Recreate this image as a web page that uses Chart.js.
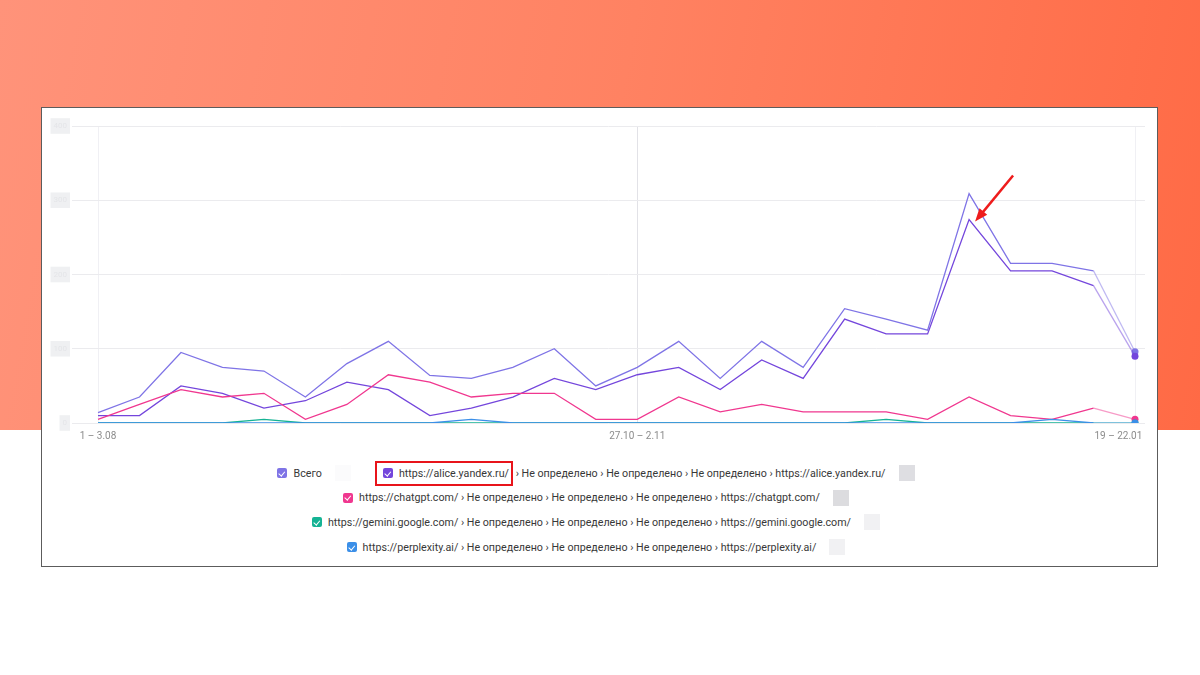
<!DOCTYPE html>
<html lang="ru">
<head>
<meta charset="utf-8">
<title>Визиты из нейросетей</title>
<script src="https://cdn.jsdelivr.net/npm/chart.js@4.4.1/dist/chart.umd.min.js"></script>
<style>
  html, body { margin: 0; padding: 0; }
  body {
    width: 1200px; height: 675px; position: relative; overflow: hidden;
    background: #fff; font-family: Roboto, "Noto Sans", sans-serif;
  }
  .bg {
    position: absolute; left: 0; top: 0; width: 1200px; height: 430px;
    background: linear-gradient(100deg, #ff937a 0%, #ff8262 50%, #ff6a45 100%);
  }
  .card {
    position: absolute; left: 41px; top: 107px; width: 1117px; height: 460px;
    box-sizing: border-box; border: 1px solid #5c5c5c; background: #fff;
  }
  .chart-wrap { position: absolute; left: 0; top: 0; width: 1130px; height: 339px; }
  #legend {
    position: absolute; left: 204px; top: 353px; width: 700px;
    display: flex; flex-wrap: wrap; justify-content: center; column-gap: 32px;
  }
  .item { display: flex; align-items: center; height: 24.6px; font-size: 10.7px; color: #383838; white-space: nowrap; }
  .chk {
    width: 10px; height: 10px; border-radius: 2px; margin-right: 6px; position: relative; flex: none;
  }
  .chk::after {
    content: ""; position: absolute; left: 3px; top: 1.5px; width: 2.5px; height: 4.5px;
    border-right: 1.5px solid #fff; border-bottom: 1.5px solid #fff; transform: rotate(40deg);
  }
  .val { display: inline-block; width: 16px; height: 16px; margin-left: 13px; }
  .mark { display: flex; align-items: center; border: 2px solid #e8141b; height: 21px; padding: 0 2px 0 6px; margin-left: -8px; }
</style>
</head>
<body>
<div class="bg"></div>
<div class="card">
  <div class="chart-wrap"><canvas id="lineal"></canvas></div>
  <div id="legend"></div>
</div>
<script>
// DATOS
const weekLabels = ["1 – 3.08", "4 – 10.08", "11 – 17.08", "18 – 24.08", "25 – 31.08", "1 – 7.09",
  "8 – 14.09", "15 – 21.09", "22 – 28.09", "29.09 – 5.10", "6 – 12.10", "13 – 19.10", "20 – 26.10",
  "27.10 – 2.11", "3 – 9.11", "10 – 16.11", "17 – 23.11", "24 – 30.11", "1 – 7.12", "8 – 14.12",
  "15 – 21.12", "22 – 28.12", "29.12 – 4.01", "5 – 11.01", "12 – 18.01", "19 – 22.01"];
const shownWeeks = [0, 13, 25];
const yTicks = [0, 100, 200, 300, 400];

const seriesNames = [
  "Всего",
  "https://alice.yandex.ru/ › Не определено › Не определено › Не определено › https://alice.yandex.ru/",
  "https://chatgpt.com/ › Не определено › Не определено › Не определено › https://chatgpt.com/",
  "https://gemini.google.com/ › Не определено › Не определено › Не определено › https://gemini.google.com/",
  "https://perplexity.ai/ › Не определено › Не определено › Не определено › https://perplexity.ai/"
];
const seriesColors = ["#7f74e6", "#7446dc", "#f0378f", "#15b394", "#3b8fe8"];
const valueBoxColors = ["#fbfbfc", "#dedee2", "#dcdcdf", "#f1f1f3", "#f1f1f3"];

const totalVisits      = [14, 35, 95, 75, 70, 35, 80, 110, 64, 60, 75, 100, 50, 75, 110, 60, 110, 75, 154, 140, 125, 309, 215, 215, 205, 96];
const aliceVisits      = [10, 10, 50, 40, 20, 30, 55, 45, 10, 20, 35, 60, 45, 65, 75, 45, 85, 60, 140, 120, 120, 274, 205, 205, 185, 90];
const chatgptVisits    = [5, 25, 45, 35, 40, 5, 25, 65, 55, 35, 40, 40, 5, 5, 35, 15, 25, 15, 15, 15, 5, 35, 10, 5, 20, 5];
const geminiVisits     = [0, 0, 0, 0, 5, 0, 0, 0, 0, 0, 0, 0, 0, 0, 0, 0, 0, 0, 0, 5, 0, 0, 0, 0, 0, 0];
const perplexityVisits = [0, 0, 0, 0, 0, 0, 0, 0, 0, 5, 0, 0, 0, 0, 0, 0, 0, 0, 0, 0, 0, 0, 0, 5, 0, 0];
const allSeries = [totalVisits, aliceVisits, chatgptVisits, geminiVisits, perplexityVisits];
const highlightWeek = 21;
// DATOS END

const lastIdx = weekLabels.length - 1;
// la etiqueta de la ultima semana (parcial) va un poco a la izquierda de su linea
const lastLabelAt = lastIdx - 0.4;

function fade(hex, a) {
  const n = parseInt(hex.slice(1), 16);
  return `rgba(${n >> 16}, ${(n >> 8) & 255}, ${n & 255}, ${a})`;
}

// LEYENDA
let html = "";
seriesNames.forEach((name, i) => {
  const chk = `<span class="chk" style="background:${seriesColors[i]}"></span>`;
  const box = `<span class="val" style="background:${valueBoxColors[i]}"></span>`;
  if (i === 1) {
    const cut = name.indexOf(" › ");
    html += `<div class="item"><span class="mark">${chk}${name.slice(0, cut)}</span>&nbsp;${name.slice(cut + 1)}${box}</div>`;
  } else {
    html += `<div class="item">${chk}${name}${box}</div>`;
  }
});
document.getElementById("legend").innerHTML = html;

// FLECHA
const arrowPlugin = {
  id: "arrow",
  afterDatasetsDraw(chart) {
    const ctx = chart.ctx;
    const tx = chart.scales.x.getPixelForValue(highlightWeek) + 6;
    const ty = chart.scales.y.getPixelForValue(aliceVisits[highlightWeek]) + 2;
    const sx = tx + 38, sy = ty - 46;
    const ang = Math.atan2(ty - sy, tx - sx);
    ctx.save();
    ctx.strokeStyle = "#ee1c1c";
    ctx.fillStyle = "#ee1c1c";
    ctx.lineWidth = 2.5;
    ctx.beginPath();
    ctx.moveTo(sx, sy);
    ctx.lineTo(tx - 9 * Math.cos(ang), ty - 9 * Math.sin(ang));
    ctx.stroke();
    ctx.beginPath();
    ctx.moveTo(tx, ty);
    ctx.lineTo(tx - 13 * Math.cos(ang) + 5 * Math.sin(ang), ty - 13 * Math.sin(ang) - 5 * Math.cos(ang));
    ctx.lineTo(tx - 13 * Math.cos(ang) - 5 * Math.sin(ang), ty - 13 * Math.sin(ang) + 5 * Math.cos(ang));
    ctx.closePath();
    ctx.fill();
    ctx.restore();
  }
};

// LINEAS
const datasets = allSeries.map((serie, i) => ({
  label: seriesNames[i],
  data: serie.map((v, k) => ({ x: k, y: v })),
  borderColor: seriesColors[i],
  backgroundColor: seriesColors[i],
  borderWidth: 1.3,
  tension: 0,
  fill: false,
  order: allSeries.length - i,
  pointRadius: ctx => (ctx.dataIndex === lastIdx ? 3.5 : 0),
  pointHoverRadius: 4,
  pointBorderWidth: 0,
  segment: {
    borderColor: ctx => (ctx.p1DataIndex === lastIdx ? fade(seriesColors[i], 0.5) : undefined)
  }
}));
datasets[4].order = 0;

const config = {
  type: "line",
  data: { datasets: datasets },
  options: {
    responsive: true,
    maintainAspectRatio: false,
    animation: false,
    layout: { autoPadding: false, padding: { top: 18, right: 27, left: 0, bottom: 0 } },
    plugins: { legend: { display: false }, tooltip: { enabled: false } },
    scales: {
      x: {
        type: "linear",
        min: -0.627,
        max: 25.241,
        afterBuildTicks: s => {
          s.ticks = [shownWeeks[0], shownWeeks[1], lastLabelAt, shownWeeks[2]].map(v => ({ value: v }));
        },
        afterFit: s => { s.height = 24; },
        border: { display: false },
        grid: {
          drawTicks: false,
          color: c => {
            if (!c.tick || c.tick.value === lastLabelAt) return "rgba(0,0,0,0)";
            return c.tick.value === shownWeeks[1] ? "#e2e2e7" : "#f0f0f4";
          }
        },
        ticks: {
          padding: 7,
          color: "#8c8c8c",
          font: { size: 10, family: "Roboto" },
          maxRotation: 0,
          autoSkip: false,
          callback: v => {
            if (v === lastLabelAt) return weekLabels[lastIdx];
            if (v === lastIdx) return "";
            return weekLabels[v];
          }
        }
      },
      y: {
        min: 0,
        max: 400,
        afterBuildTicks: s => { s.ticks = yTicks.map(v => ({ value: v })); },
        afterFit: s => { s.width = 30; },
        border: { display: false },
        grid: { drawTicks: false, color: "#ebebee" },
        ticks: {
          padding: 5,
          color: "#e4e5e8",
          font: { size: 8, family: "Roboto" },
          showLabelBackdrop: true,
          backdropColor: "#eff0f2",
          backdropPadding: { top: 3, bottom: 3, left: 3, right: 3 }
        }
      }
    }
  },
  plugins: [arrowPlugin]
};
new Chart(document.getElementById("lineal"), config);
// LINEAS END
</script>
</body>
</html>
